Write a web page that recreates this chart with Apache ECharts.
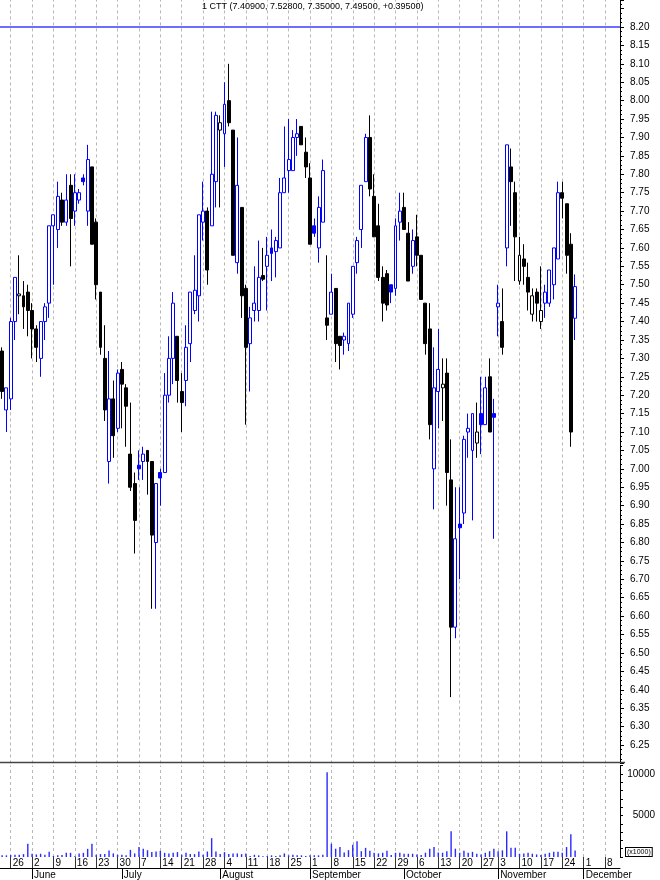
<!DOCTYPE html>
<html>
<head>
<meta charset="utf-8">
<script src="https://cdn.jsdelivr.net/npm/echarts@6/dist/echarts.min.js"></script>
<style>
html,body{margin:0;padding:0;background:#fff;}
#c{width:660px;height:880px;}
</style>
</head>
<body>
<div id="c"></div>
<script>
// ---- Data (CTT daily, 22 May 2014 - 27 Nov 2014) ----
const startDate = '2014-05-22';
const missingDays = ['2014-10-31'];
const totalSlots = 145; // trading-day slots on the axis (incl. empty future days)
const monthNames = ['January','February','March','April','May','June','July','August','September','October','November','December'];
const titleText = '1 CTT (7.40900, 7.52800, 7.35000, 7.49500, +0.39500)';

const opens = [7.32,7.16,7.19,7.40,7.47,7.47,7.48,7.43,7.38,7.30,
7.40,7.45,7.66,7.65,7.73,7.67,7.77,7.70,7.73,7.79,
7.70,7.82,7.67,7.48,7.30,7.02,7.19,7.11,7.27,7.22,
7.04,6.96,7.01,7.02,7.05,7.02,6.80,6.99,6.99,7.20,
7.30,7.36,7.21,7.24,7.34,7.43,7.47,7.67,7.70,7.66,
7.78,7.92,7.91,8.00,7.92,7.56,7.71,7.49,7.34,7.43,
7.43,7.525,7.55,7.60,7.59,7.60,7.75,7.81,7.81,7.90,
7.93,7.86,7.79,7.66,7.60,7.67,7.41,7.42,7.49,7.36,
7.35,7.34,7.42,7.56,7.65,7.78,7.90,7.74,7.66,7.52,
7.53,7.50,7.49,7.67,7.71,7.64,7.55,7.63,7.58,7.45,
7.38,7.00,7.21,7.22,7.26,6.97,6.57,6.85,6.88,7.10,
7.05,7.07,7.15,7.12,7.25,7.15,7.44,7.40,7.60,7.82,
7.75,7.51,7.57,7.52,7.42,7.48,7.40,7.45,7.45,7.50,
7.57,7.75,7.72,7.61,7.409];

const closes = [7.21,7.22,7.40,7.52,7.475,7.44,7.43,7.38,7.33,7.40,
7.44,7.66,7.69,7.74,7.67,7.73,7.68,7.75,7.75,7.78,
7.84,7.61,7.50,7.33,7.16,7.19,7.09,7.26,7.23,7.17,
6.95,6.86,7.00,7.04,7.02,6.82,6.96,6.975,7.20,7.30,
7.45,7.24,7.18,7.33,7.48,7.485,7.69,7.70,7.54,7.80,
7.96,7.94,7.99,7.94,7.58,7.77,7.47,7.33,7.41,7.45,
7.52,7.515,7.58,7.585,7.62,7.75,7.79,7.84,7.90,7.91,
7.88,7.82,7.61,7.64,7.71,7.81,7.39,7.48,7.34,7.335,
7.36,7.45,7.55,7.62,7.77,7.90,7.76,7.63,7.52,7.45,
7.445,7.48,7.66,7.70,7.65,7.51,7.62,7.58,7.46,7.34,
7.12,7.22,7.27,7.23,6.99,6.57,6.81,6.84,7.08,7.11,
7.15,7.10,7.12,7.22,7.10,7.14,7.45,7.33,7.88,7.78,
7.63,7.58,7.55,7.48,7.47,7.45,7.43,7.48,7.54,7.60,
7.75,7.735,7.58,7.10,7.495];

const highs = [7.33,7.22,7.41,7.52,7.58,7.51,7.50,7.45,7.39,7.40,
7.45,7.66,7.69,7.78,7.75,7.80,7.80,7.80,7.76,7.80,
7.88,7.82,7.68,7.48,7.39,7.32,7.24,7.27,7.29,7.23,
7.18,6.99,7.05,7.06,7.05,7.02,6.96,7.00,7.26,7.36,
7.48,7.36,7.26,7.39,7.48,7.58,7.69,7.78,7.71,7.97,
7.97,7.96,8.05,8.10,7.92,7.90,7.71,7.50,7.44,7.55,
7.62,7.60,7.63,7.65,7.63,7.79,7.93,7.95,7.92,7.95,
7.93,7.90,7.83,7.68,7.74,7.84,7.58,7.53,7.49,7.36,
7.37,7.45,7.55,7.63,7.77,7.91,7.96,7.80,7.72,7.55,
7.54,7.50,7.68,7.75,7.75,7.67,7.65,7.69,7.58,7.45,
7.45,7.33,7.38,7.30,7.30,7.08,6.95,6.95,7.09,7.15,
7.15,7.18,7.25,7.25,7.30,7.19,7.50,7.49,7.88,7.87,
7.78,7.63,7.61,7.56,7.49,7.49,7.55,7.50,7.54,7.60,
7.78,7.78,7.72,7.64,7.528];

const lows = [7.19,7.10,7.16,7.35,7.42,7.38,7.36,7.30,7.29,7.25,
7.35,7.41,7.50,7.60,7.66,7.66,7.55,7.66,7.72,7.77,
7.66,7.61,7.46,7.31,7.13,6.96,7.03,7.10,7.11,7.06,
6.94,6.77,6.97,6.97,6.93,6.62,6.62,6.90,6.99,7.18,
7.23,7.18,7.10,7.17,7.29,7.42,7.40,7.62,7.50,7.66,
7.71,7.71,7.82,7.93,7.58,7.53,7.41,7.12,7.21,7.40,
7.40,7.51,7.43,7.51,7.52,7.60,7.75,7.75,7.81,7.85,
7.88,7.79,7.61,7.63,7.56,7.67,7.35,7.42,7.29,7.27,
7.31,7.32,7.41,7.53,7.60,7.78,7.74,7.63,7.51,7.40,
7.43,7.45,7.47,7.62,7.65,7.51,7.53,7.55,7.46,7.31,
7.08,6.89,7.11,7.13,6.90,6.38,6.54,6.70,6.85,7.03,
6.86,7.03,7.04,7.12,7.10,6.81,7.36,7.31,7.55,7.66,
7.51,7.50,7.50,7.43,7.40,7.40,7.38,7.41,7.44,7.46,
7.57,7.68,7.53,7.06,7.35];

const volumes = [200,200,230,270,270,350,1600,390,310,390,
270,630,120,200,230,500,500,100,430,500,
980,1600,270,350,350,780,430,270,270,200,
860,430,1200,980,820,590,660,740,500,430,
500,590,270,500,350,350,660,270,660,2270,
660,350,590,350,430,430,350,430,120,270,
200,100,120,200,120,200,430,200,270,200,
200,120,200,200,200,270,10200,1600,1000,1200,
550,820,1480,1900,700,1100,740,510,430,510,
740,230,510,510,390,390,390,310,230,510,
1000,1200,550,510,700,3090,1000,510,740,510,
620,390,310,510,700,1000,700,800,3090,1100,
1100,390,430,510,390,310,230,390,510,620,
620,510,1200,2730,780];

const refLinePrice = 8.20;

// ---- Build trading-day categories ----
const dates = [];
(function(){
  let d = new Date(startDate + 'T00:00:00Z');
  while (dates.length < totalSlots) {
    const wd = d.getUTCDay();
    const s = d.toISOString().slice(0,10);
    if (wd !== 0 && wd !== 6 && missingDays.indexOf(s) < 0) dates.push(s);
    d = new Date(d.getTime() + 86400000);
  }
})();
const dObj = dates.map(s => new Date(s + 'T00:00:00Z'));
const isMonday = i => dObj[i].getUTCDay() === 1;
const isMonthStart = i => i > 0 && dObj[i].getUTCMonth() !== dObj[i-1].getUTCMonth();
const mondays = dates.filter((s,i) => isMonday(i));

const BLUE = '#0000ff', BLACK = '#000000';
const candleData = opens.map((o,i) => {
  const c = closes[i];
  const prev = i > 0 ? closes[i-1] : o;
  const col = c >= prev && i > 0 ? BLUE : BLACK;
  const fill = c > o ? '#ffffff' : col;
  return {
    value: [o, c, lows[i], highs[i]],
    itemStyle: {color: fill, color0: fill, borderColor: col, borderColor0: col, borderWidth: 1}
  };
});

const FONT = 'Liberation Sans, Arial, sans-serif';
const gridLineStyle = {color: '#b8b8b8', type: [3,3], width: 1};
const PX_PER_UNIT = 368.2;
const priceBottom = 763.4;
const priceMin = 6.20;
const priceMax = priceMin + priceBottom / PX_PER_UNIT;

const gridMarkLine = {silent: true, symbol: ['none','none'], label: {show: false}, animation: false,
  lineStyle: gridLineStyle, data: mondays.map(d => ({xAxis: d}))};

const chart = echarts.init(document.getElementById('c'), null, {renderer: 'canvas', width: 660, height: 880});
chart.setOption({
  animation: false,
  backgroundColor: '#ffffff',
  textStyle: {fontFamily: FONT},
  grid: [
    {left: 0, top: 0, width: 620, height: priceBottom},
    {left: 0, top: 765.6, width: 620, height: 93.9}
  ],
  xAxis: [
    {type: 'category', gridIndex: 0, data: dates, boundaryGap: true,
     axisLine: {show: false}, axisTick: {show: false}, axisLabel: {show: false}, splitLine: {show: false}},
    {type: 'category', gridIndex: 1, data: dates, boundaryGap: true,
     axisLine: {show: false},
     axisTick: {show: true, alignWithLabel: true, interval: (i) => isMonday(i), length: 11, lineStyle: {color: '#333', width: 1}},
     axisLabel: {show: true, interval: (i) => isMonday(i), formatter: (v) => String(+v.slice(8,10)),
       align: 'left', margin: 1, fontSize: 10, color: '#000', fontFamily: FONT, padding: [0,0,0,2]},
     splitLine: {show: false}},
    {type: 'category', gridIndex: 1, data: dates, boundaryGap: true, position: 'bottom', offset: 11,
     axisLine: {show: true, lineStyle: {color: '#000', width: 1}},
     axisTick: {show: true, alignWithLabel: true, interval: (i) => isMonthStart(i), length: 11, lineStyle: {color: '#000', width: 1}},
     axisLabel: {show: true, interval: (i) => isMonthStart(i), formatter: (v) => monthNames[+v.slice(5,7)-1],
       align: 'left', margin: 2, fontSize: 10, color: '#000', fontFamily: FONT, padding: [0,0,0,2]},
     splitLine: {show: false}}
  ],
  yAxis: [
    {type: 'value', gridIndex: 0, position: 'right', min: priceMin, max: priceMax, interval: 0.05,
     axisLine: {show: true, lineStyle: {color: '#000', width: 1}},
     axisTick: {show: true, length: 4, lineStyle: {color: '#000'}},
     minorTick: {show: true, splitNumber: 4, length: 2, lineStyle: {color: '#000'}},
     axisLabel: {show: true, margin: 10, fontSize: 10, color: '#000', fontFamily: FONT,
       formatter: (v) => { const r = Math.round(v*100)/100; return (Math.abs(r - v) < 1e-6 && r <= 8.2001 && r >= 6.2499) ? r.toFixed(2) : ''; }},
     splitLine: {show: false}},
    {type: 'value', gridIndex: 1, position: 'right', min: 0, max: 11000, interval: 1000,
     axisLine: {show: true, lineStyle: {color: '#000', width: 1}},
     axisTick: {show: true, length: 3, lineStyle: {color: '#000'}},
     axisLabel: {show: true, align: 'right', margin: 35, fontSize: 10, color: '#000', fontFamily: FONT,
       formatter: (v) => (v > 0 && v % 5000 === 0) ? String(v) : ''},
     splitLine: {show: false}}
  ],
  series: [
    // weekly dashed gridlines (drawn beneath the marks)
    {type: 'line', name: 'grid-price', xAxisIndex: 0, yAxisIndex: 0, data: [], z: 1, silent: true,
     markLine: gridMarkLine},
    {type: 'line', name: 'grid-volume', xAxisIndex: 1, yAxisIndex: 1, data: [], z: 1, silent: true,
     markLine: gridMarkLine},
    {type: 'candlestick', name: 'CTT', xAxisIndex: 0, yAxisIndex: 0, barWidth: 3.4, z: 5,
     data: candleData,
     markLine: {silent: true, symbol: ['none','none'], label: {show: false}, animation: false,
       data: [{yAxis: refLinePrice, lineStyle: {color: '#3c3cff', width: 1.5, type: 'solid'}}]}
    },
    {type: 'bar', name: 'Volume', xAxisIndex: 1, yAxisIndex: 1, barWidth: 1.4, z: 5,
     itemStyle: {color: '#2a2aff'}, data: volumes}
  ],
  graphic: [
    {type: 'line', shape: {x1: 0, y1: 762.5, x2: 625, y2: 762.5}, style: {stroke: '#444', lineWidth: 1.5}, z: 10},
    {type: 'text', left: 202, top: 2, style: {text: titleText, fontSize: 9, fill: '#000', font: '9px Liberation Sans'}, z: 10},
    {type: 'text', left: 625, top: 847, style: {text: '(x1000)', fontSize: 7, fill: '#000', font: '7px Liberation Sans',
      borderColor: '#000', borderWidth: 1, padding: [1,1,0,1], backgroundColor: '#fff'}, z: 10}
  ]
});
</script>
</body>
</html>
